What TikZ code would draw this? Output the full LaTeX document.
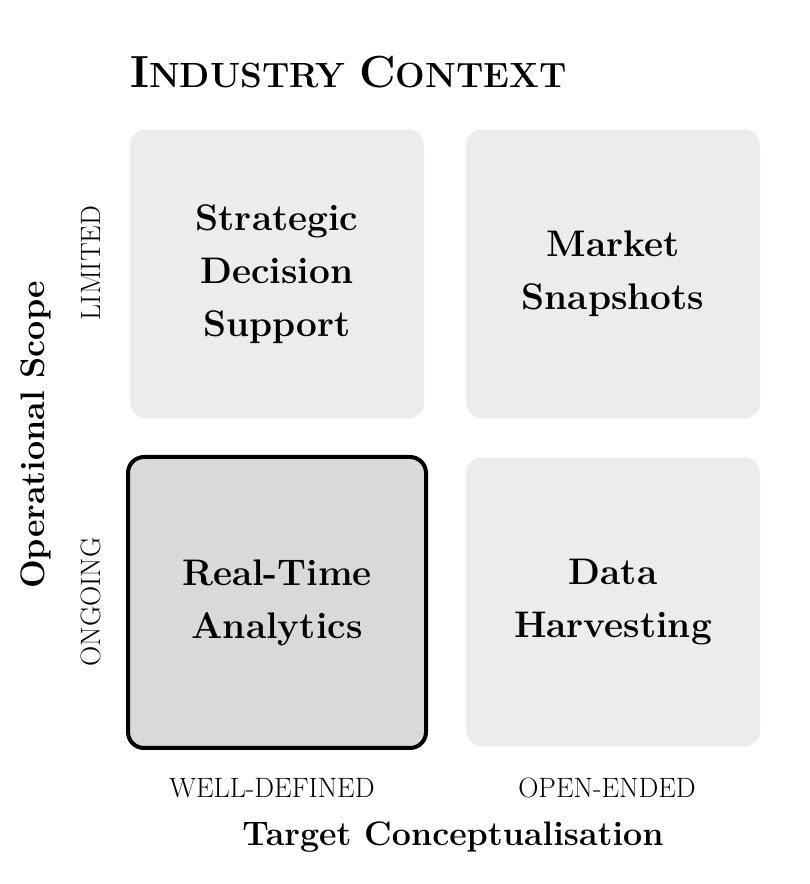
\documentclass[tikz,border=0pt]{standalone}
\usepackage{fontspec}
\definecolor{cellgray}{HTML}{ECECEC}
\definecolor{keygray}{HTML}{D9D9D9}
\begin{document}
\begin{tikzpicture}[x=1pt,y=1pt,
  cell/.style={fill=cellgray,rounded corners=16pt,minimum width=294pt,minimum height=289pt,
    align=center,inner sep=0pt,font=\fontsize{37}{53}\selectfont\bfseries},
  keycell/.style={cell,fill=keygray,draw=black,line width=4pt,minimum width=298pt,minimum height=291pt},
  axislabel/.style={font=\fontsize{28}{30}\selectfont,inner sep=0pt},
  axistitle/.style={font=\fontsize{34}{38}\selectfont\bfseries,inner sep=0pt}]
\useasboundingbox (0,0) rectangle (809,884);
% title
\node[anchor=base west,inner sep=0pt,font=\bfseries] (title) at (130,796)
  {{\fontsize{45}{50}\selectfont I}{\fontsize{35}{40}\selectfont NDUSTRY}\hspace{14pt}%
   {\fontsize{45}{50}\selectfont C}{\fontsize{35}{40}\selectfont ONTEXT}};
% quadrants
\node[cell] (strategic) at (277,610) {Strategic\\Decision\\Support};
\node[cell] (market) at (613,610) {Market\\Snapshots};
\node[keycell] (realtime) at (277,281.5) {Real-Time\\Analytics};
\node[cell] (harvest) at (613,282) {Data\\Harvesting};
% axes
\node[axislabel,rotate=90,anchor=base] (limited) at (100,621) {LIMITED};
\node[axislabel,rotate=90,anchor=base] (ongoing) at (100,282) {ONGOING};
\node[axistitle,rotate=90,anchor=base] (scope) at (45,449) {Operational Scope};
\node[axislabel,anchor=base] (welldef) at (272,86) {WELL-DEFINED};
\node[axislabel,anchor=base] (openend) at (607,86) {OPEN-ENDED};
\node[axistitle,anchor=base] (target) at (453,38) {Target Conceptualisation};
\end{tikzpicture}
\end{document}
